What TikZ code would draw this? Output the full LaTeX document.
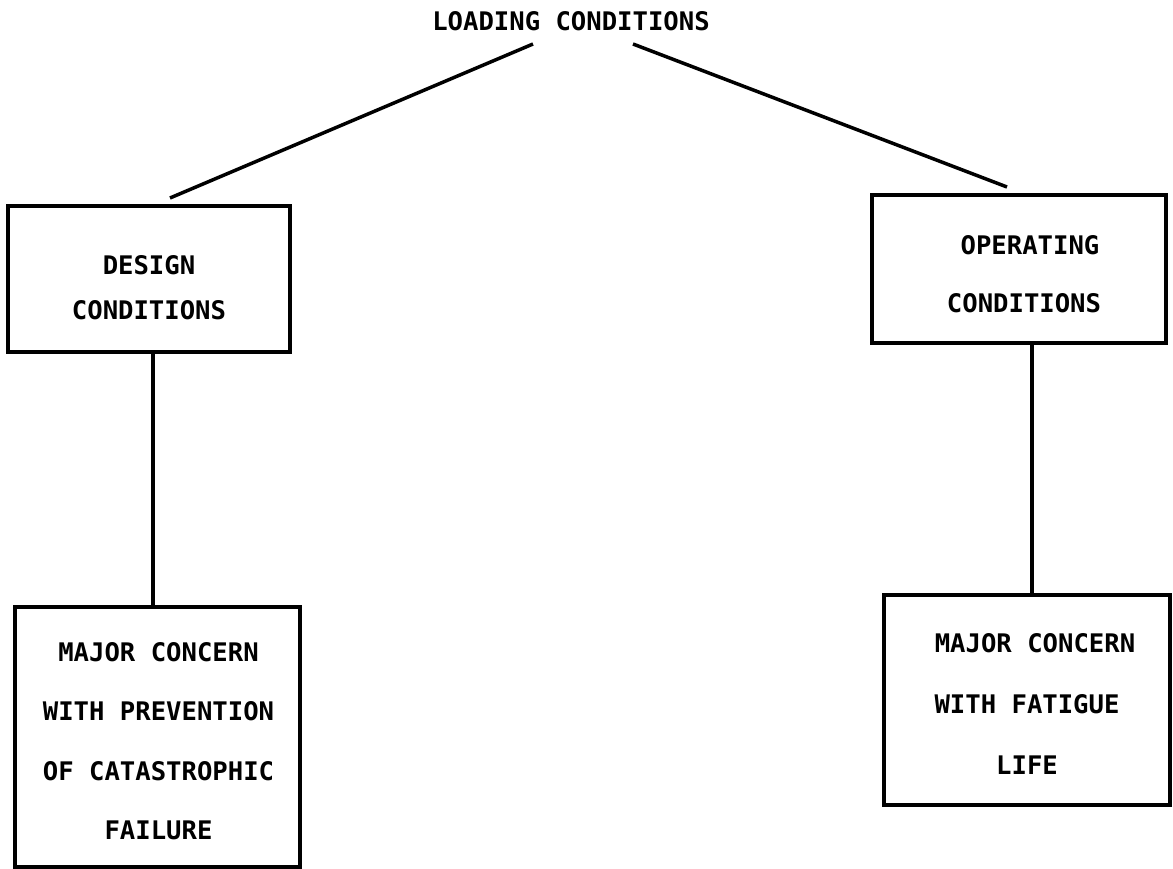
\documentclass[tikz,border=0pt]{standalone}
\usepackage{fontspec}
\setmonofont{DejaVu Sans Mono}
\begin{document}
\begin{tikzpicture}[x=1pt,y=-1pt,
  lbl/.style={font=\ttfamily\bfseries\fontsize{25.6}{30}\selectfont, inner sep=0pt, align=center},
  box/.style={draw, line width=3.5pt, inner sep=0pt},
  conn/.style={line width=3.5pt}]
\useasboundingbox (0,0) rectangle (1173,869);
\node[lbl] (top) at (571,21) {LOADING CONDITIONS};
% boxes
\node[box, minimum width=282pt, minimum height=146pt] (design) at (149,279) {};
\node[box, minimum width=294pt, minimum height=148pt] (oper) at (1019,269) {};
\node[box, minimum width=285pt, minimum height=260pt] (fail) at (157.5,737) {};
\node[box, minimum width=286pt, minimum height=210pt] (fat) at (1027,700) {};
% texts
\node[lbl, font=\ttfamily\bfseries\fontsize{25.6}{45}\selectfont] (designtxt) at (149,288)
  {DESIGN\\CONDITIONS};
\node[lbl, font=\ttfamily\bfseries\fontsize{25.6}{58}\selectfont] (opertxt) at (1024,274)
  {\hspace*{12pt}OPERATING\\CONDITIONS};
\node[lbl, font=\ttfamily\bfseries\fontsize{25.6}{59.5}\selectfont] (failtxt) at (158.5,741)
  {MAJOR CONCERN\\WITH PREVENTION\\OF CATASTROPHIC\\FAILURE};
\node[lbl, font=\ttfamily\bfseries\fontsize{25.6}{61}\selectfont] (fattxt) at (1027,704)
  {\hspace*{16pt}MAJOR CONCERN\\WITH FATIGUE\\LIFE};
% connectors
\coordinate (la) at (533,44);
\coordinate (lb) at (170,198);
\coordinate (ra) at (633,44);
\coordinate (rb) at (1007,187);
\coordinate (vl) at (153,0);
\coordinate (vr) at (1032,0);
\draw[conn] (la) -- (lb);
\draw[conn] (ra) -- (rb);
\draw[conn] (design.south -| vl) -- (fail.north -| vl);
\draw[conn] (oper.south -| vr) -- (fat.north -| vr);
\end{tikzpicture}
\end{document}
